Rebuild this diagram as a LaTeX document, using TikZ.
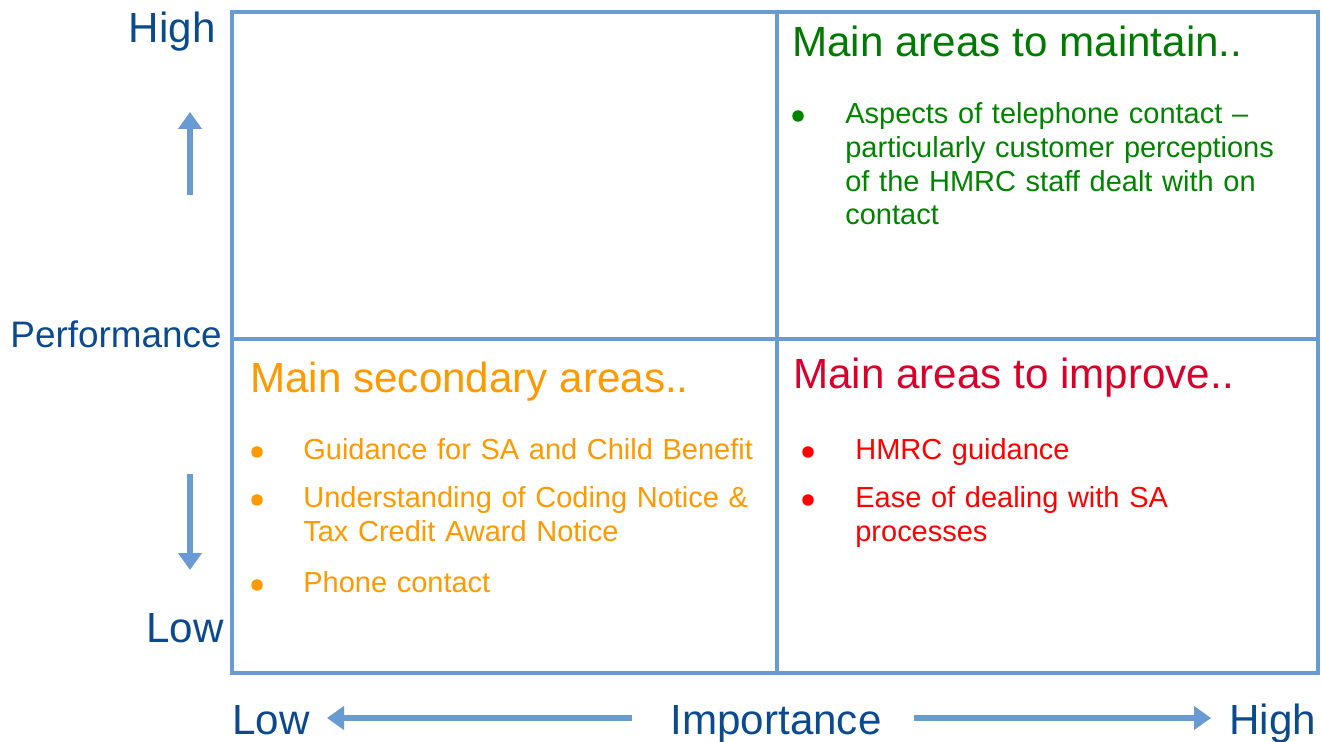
\documentclass[tikz,border=0pt]{standalone}
\usepackage{fontspec}
\setmainfont{Liberation Sans}
\usetikzlibrary{arrows.meta, positioning}

\definecolor{gridblue}{RGB}{104,155,212}
\definecolor{axisblue}{RGB}{11,74,143}
\definecolor{keepgreen}{RGB}{0,122,0}
\definecolor{itemgreen}{RGB}{0,132,0}
\definecolor{secorange}{RGB}{255,153,0}
\definecolor{fixred}{RGB}{218,0,42}
\definecolor{itemred}{RGB}{255,0,0}

\begin{document}
\begin{tikzpicture}[x=0.02cm, y=-0.02cm,
    axis/.style={text=axisblue, inner sep=0pt, font=\fontsize{24}{28}\selectfont},
    title/.style={anchor=base west, inner sep=0pt, font=\fontsize{24}{28}\selectfont},
    item/.style={anchor=base west, inner sep=0pt, text width=9.5cm, align=left, font=\fontsize{16.5}{19.1}\selectfont},
    dot/.style={circle, fill, inner sep=0pt, minimum size=0.23cm},
    frame/.style={draw=gridblue, line width=0.08cm},
    pointer/.style={-{Triangle[length=0.34cm, width=0.46cm]}, line width=0.12cm, gridblue}
]
\useasboundingbox (0,0) rectangle (1322,742);

% quadrant grid
\draw[frame] (232,12) rectangle (1318,673);
\draw[frame] (777,12) -- (777,673);
\draw[frame] (232,339) -- (1318,339);

% performance axis
\node[axis, anchor=base east] (perfhigh) at (216,43) {High};
\node[axis, anchor=base east, font=\fontsize{21}{25}\selectfont] (perf) at (222,348) {Performance};
\node[axis, anchor=base east] (perflow) at (224,643) {Low};
\coordinate (upfoot) at (190,195);
\coordinate (uptip) at (190,112);
\coordinate (downfoot) at (190,474);
\coordinate (downtip) at (190,570);
\draw[pointer] (upfoot) -- (uptip);
\draw[pointer] (downfoot) -- (downtip);

% importance axis
\node[axis, anchor=base west] (implow) at (232,735) {Low};
\node[axis, anchor=base] (imp) at (776,735) {Importance};
\node[axis, anchor=base west] (imphigh) at (1229,735) {High};
\coordinate (leftfoot) at (632,718);
\coordinate (lefttip) at (327,718);
\coordinate (rightfoot) at (914,718);
\coordinate (righttip) at (1211,718);
\draw[pointer] (leftfoot) -- (lefttip);
\draw[pointer] (rightfoot) -- (righttip);

% top right: maintain
\node[title, text=keepgreen] (keep) at (792,57) {Main areas to maintain..};
\node[item, text=itemgreen] (keep1) at (845,124) {Aspects of telephone contact --\\particularly customer perceptions\\of the HMRC staff dealt with on\\contact};
\node[dot, itemgreen] at ([shift={(-47,-8)}]keep1.base west) {};

% bottom left: secondary
\node[title, text=secorange] (sec) at (250,393) {Main secondary areas..};
\node[item, text=secorange] (sec1) at (303,460) {Guidance for SA and Child Benefit};
\node[item, text=secorange] (sec2) at (303,508) {Understanding of Coding Notice \&\\Tax Credit Award Notice};
\node[item, text=secorange] (sec3) at (303,593) {Phone contact};
\foreach \n in {sec1,sec2,sec3}
  \node[dot, secorange] at ([shift={(-46,-8)}]\n.base west) {};

% bottom right: improve
\node[title, text=fixred] (fix) at (793,389) {Main areas to improve..};
\node[item, text=itemred] (fix1) at (855,460) {HMRC guidance};
\node[item, text=itemred] (fix2) at (855,508) {Ease of dealing with SA\\processes};
\foreach \n in {fix1,fix2}
  \node[dot, itemred] at ([shift={(-47,-8)}]\n.base west) {};

\end{tikzpicture}
\end{document}
